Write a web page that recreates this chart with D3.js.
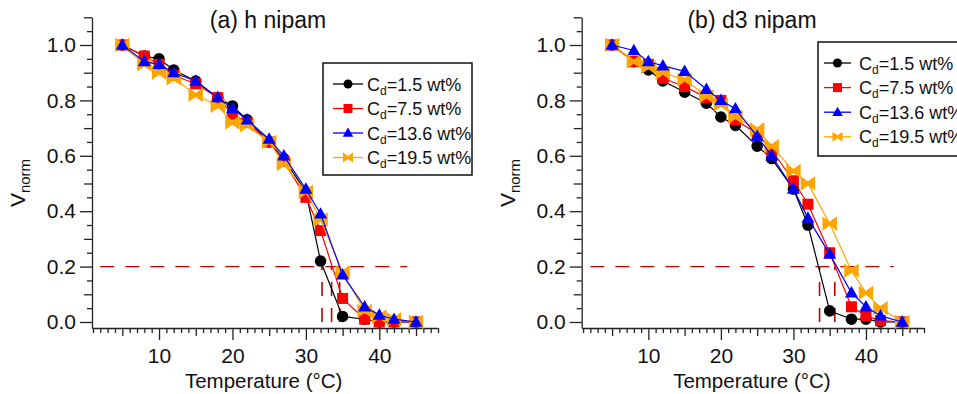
<!DOCTYPE html>
<html>
<head>
<meta charset="utf-8">
<script src="https://cdn.jsdelivr.net/npm/d3@7"></script>
<style>
  body { margin: 0; background: #fff; }
  svg { display: block; font-family: Arial, "Liberation Sans", sans-serif; }
</style>
</head>
<body>
<svg id="chart" width="957" height="394"></svg>
<script>
// ---------- data ----------
const temps = [5, 8, 10, 12, 15, 18, 20, 22, 25, 27, 30, 32, 35, 38, 40, 42, 45];
const seriesLabels = ["1.5", "7.5", "13.6", "19.5"];
const xTicks = [10, 20, 30, 40];
const yTicks = [0, 0.2, 0.4, 0.6, 0.8, 1.0];

// (a) h nipam
const hBlack  = [1.0, 0.96, 0.95, 0.91, 0.87, 0.81, 0.78, 0.73, 0.65, 0.59, 0.47, 0.22, 0.02, 0.01, 0.0, 0.0, 0.0];
const hRed    = [1.0, 0.96, 0.93, 0.89, 0.86, 0.81, 0.75, 0.72, 0.65, 0.58, 0.45, 0.33, 0.085, 0.01, 0.0, 0.0, 0.0];
const hBlue   = [1.0, 0.94, 0.93, 0.90, 0.87, 0.81, 0.77, 0.73, 0.66, 0.60, 0.48, 0.39, 0.17, 0.055, 0.025, 0.01, 0.0];
const hOrange = [1.0, 0.93, 0.90, 0.88, 0.82, 0.78, 0.72, 0.71, 0.65, 0.57, 0.47, 0.37, 0.18, 0.04, 0.02, 0.01, 0.0];
const hTc = [32.2, 33.5, 34.6];

// (b) d3 nipam
const dBlack  = [1.0, 0.94, 0.91, 0.87, 0.83, 0.79, 0.74, 0.71, 0.635, 0.59, 0.48, 0.35, 0.04, 0.01, 0.01, 0.0, 0.0];
const dRed    = [1.0, 0.94, 0.93, 0.88, 0.85, 0.81, 0.80, 0.73, 0.68, 0.62, 0.51, 0.425, 0.25, 0.055, 0.022, 0.005, 0.0];
const dBlue   = [1.0, 0.98, 0.94, 0.925, 0.905, 0.84, 0.80, 0.77, 0.67, 0.60, 0.48, 0.375, 0.245, 0.105, 0.055, 0.022, 0.0];
const dOrange = [1.0, 0.94, 0.92, 0.90, 0.875, 0.815, 0.785, 0.74, 0.695, 0.635, 0.545, 0.50, 0.355, 0.185, 0.105, 0.05, 0.0];
const dTc = [33.6, 35.7];

const threshold = 0.2;

// ---------- styles ----------
const colors = ["#000000", "#ff0000", "#0000ff", "#ffa500"];
const markerKinds = ["circle", "square", "triangle", "bowtie"];
const dashColor = "#c00000";
const FONT = "Arial, 'Liberation Sans', sans-serif";

function markerPath(kind, s) {
  if (kind === "circle") return d3.symbol(d3.symbolCircle, Math.PI * s * s)();
  if (kind === "square") return `M${-s},${-s}H${s}V${s}H${-s}Z`;
  if (kind === "triangle") return `M0,${-s * 1.1}L${s * 1.05},${s * 0.75}L${-s * 1.05},${s * 0.75}Z`;
  return `M${-s},${-s}L0,${-s * 0.3}L${s},${-s}L${s},${s}L0,${s * 0.3}L${-s},${s}Z`;
}

const svg = d3.select("#chart");

function drawPanel(cfg) {
  const x = d3.scaleLinear().domain(cfg.xDomain).range(cfg.xRange);
  const y = d3.scaleLinear().domain([-0.0217, 1.1]).range([328, 17.3]);
  const g = svg.append("g");

  // y axis
  const yMinor = d3.range(0, 1.1001, 0.05).filter(v => Math.abs(v * 10 - Math.round(v * 10)) > 1e-6);
  const yMid = [0.1, 0.3, 0.5, 0.7, 0.9, 1.1];
  const yAxisG = g.append("g").attr("transform", `translate(${cfg.xRange[0]},0)`);
  yAxisG.call(d3.axisLeft(y).tickValues(yTicks).tickSize(12).tickFormat(d3.format(".1f")).tickSizeOuter(0));
  yAxisG.append("g").call(d3.axisLeft(y).tickValues(yMid).tickSize(8).tickFormat("").tickSizeOuter(0))
    .select(".domain").remove();
  yAxisG.append("g").call(d3.axisLeft(y).tickValues(yMinor).tickSize(5).tickFormat("").tickSizeOuter(0))
    .select(".domain").remove();
  yAxisG.selectAll("text").attr("font-size", 21).attr("fill", "#111").attr("x", -16)
    .attr("font-family", FONT);
  yAxisG.selectAll("line, path").attr("stroke", "#222").attr("stroke-width", 1.3);

  // x axis
  const xAll = d3.range(1, 49);
  const xMid = [5, 15, 25, 35, 45];
  const xMinor = xAll.filter(v => v % 5 !== 0);
  const xAxisG = g.append("g").attr("transform", `translate(0,328)`);
  xAxisG.call(d3.axisBottom(x).tickValues(xTicks).tickSize(12).tickFormat(d3.format("d")).tickSizeOuter(0));
  xAxisG.append("g").call(d3.axisBottom(x).tickValues(xMid).tickSize(8).tickFormat("").tickSizeOuter(0))
    .select(".domain").remove();
  xAxisG.append("g").call(d3.axisBottom(x).tickValues(xMinor).tickSize(5).tickFormat("").tickSizeOuter(0))
    .select(".domain").remove();
  xAxisG.selectAll("text").attr("font-size", 21).attr("fill", "#111").attr("y", 20)
    .attr("font-family", FONT);
  xAxisG.selectAll("line, path").attr("stroke", "#222").attr("stroke-width", 1.3);

  // axis titles
  g.append("text").attr("x", (cfg.xRange[0] + cfg.xRange[1]) / 2 - 1).attr("y", 388)
    .attr("text-anchor", "middle").attr("font-size", 20.5).attr("fill", "#111").text("Temperature (°C)");
  const yl = g.append("text")
    .attr("transform", `translate(${cfg.xRange[0] - 67},183) rotate(-90)`)
    .attr("text-anchor", "middle").attr("font-size", 21).attr("fill", "#111");
  yl.append("tspan").text("V");
  yl.append("tspan").attr("font-size", 15).attr("dy", 5).text("norm");

  // title
  g.append("text").attr("x", cfg.titleX).attr("y", 28).attr("text-anchor", "middle")
    .attr("font-size", 23).attr("fill", "#111").text(cfg.title);

  // threshold dashed lines
  g.append("line").attr("x1", x(2)).attr("x2", x(43.8)).attr("y1", y(threshold)).attr("y2", y(threshold))
    .attr("stroke", dashColor).attr("stroke-width", 1.3).attr("stroke-dasharray", "14,11");
  cfg.tc.forEach(t => {
    g.append("line").attr("x1", x(t)).attr("x2", x(t)).attr("y1", y(0)).attr("y2", y(threshold))
      .attr("stroke", dashColor).attr("stroke-width", 1.6).attr("stroke-dasharray", "14,12");
  });

  // series: draw order black, red, orange, blue
  const order = [0, 1, 3, 2];
  const line = d3.line().x(d => x(d[0])).y(d => y(d[1]));
  order.forEach(i => {
    const vals = cfg.series[i];
    const pts = temps.map((t, k) => [t, vals[k]]);
    g.append("path").datum(pts).attr("d", line).attr("fill", "none")
      .attr("stroke", colors[i]).attr("stroke-width", 1.2);
    const s = [5.8, 5.5, 6.2, 7.2][i];
    g.selectAll(null).data(pts).enter().append("path")
      .attr("transform", d => `translate(${x(d[0])},${y(d[1])})`)
      .attr("d", markerPath(markerKinds[i], s))
      .attr("fill", colors[i]);
  });

  // legend
  const L = cfg.legend;
  g.append("rect").attr("x", L.x).attr("y", L.y).attr("width", L.w).attr("height", L.h)
    .attr("fill", "#fff").attr("stroke", "#111").attr("stroke-width", 1.5);
  seriesLabels.forEach((lab, i) => {
    const yy = L.y0 + i * L.dy;
    g.append("line").attr("x1", L.lx1).attr("x2", L.lx2).attr("y1", yy).attr("y2", yy)
      .attr("stroke", colors[i]).attr("stroke-width", 1.3);
    g.append("path").attr("transform", `translate(${(L.lx1 + L.lx2) / 2},${yy})`)
      .attr("d", markerPath(markerKinds[i], [4.5, 4.5, 5, 5][i])).attr("fill", colors[i]);
    const t = g.append("text").attr("x", L.tx).attr("y", yy + 6.5).attr("font-size", 18).attr("fill", "#111");
    t.append("tspan").text("C");
    t.append("tspan").attr("font-size", 12).attr("dy", 4).text("d");
    t.append("tspan").attr("dy", -4).text(`=${lab} wt%`);
  });
}

drawPanel({
  title: "(a) h nipam", titleX: 268,
  xDomain: [0.87, 47.9], xRange: [92, 437.3],
  series: [hBlack, hRed, hBlue, hOrange], tc: hTc,
  legend: { x: 323, y: 63, w: 149, h: 112, y0: 84, dy: 24.5, lx1: 333, lx2: 363, tx: 367 }
});
drawPanel({
  title: "(b) d3 nipam", titleX: 752,
  xDomain: [0.81, 48], xRange: [581.7, 924],
  series: [dBlack, dRed, dBlue, dOrange], tc: dTc,
  legend: { x: 818, y: 42, w: 160, h: 114, y0: 63, dy: 24.6, lx1: 824, lx2: 851, tx: 859 }
});
</script>
</body>
</html>
